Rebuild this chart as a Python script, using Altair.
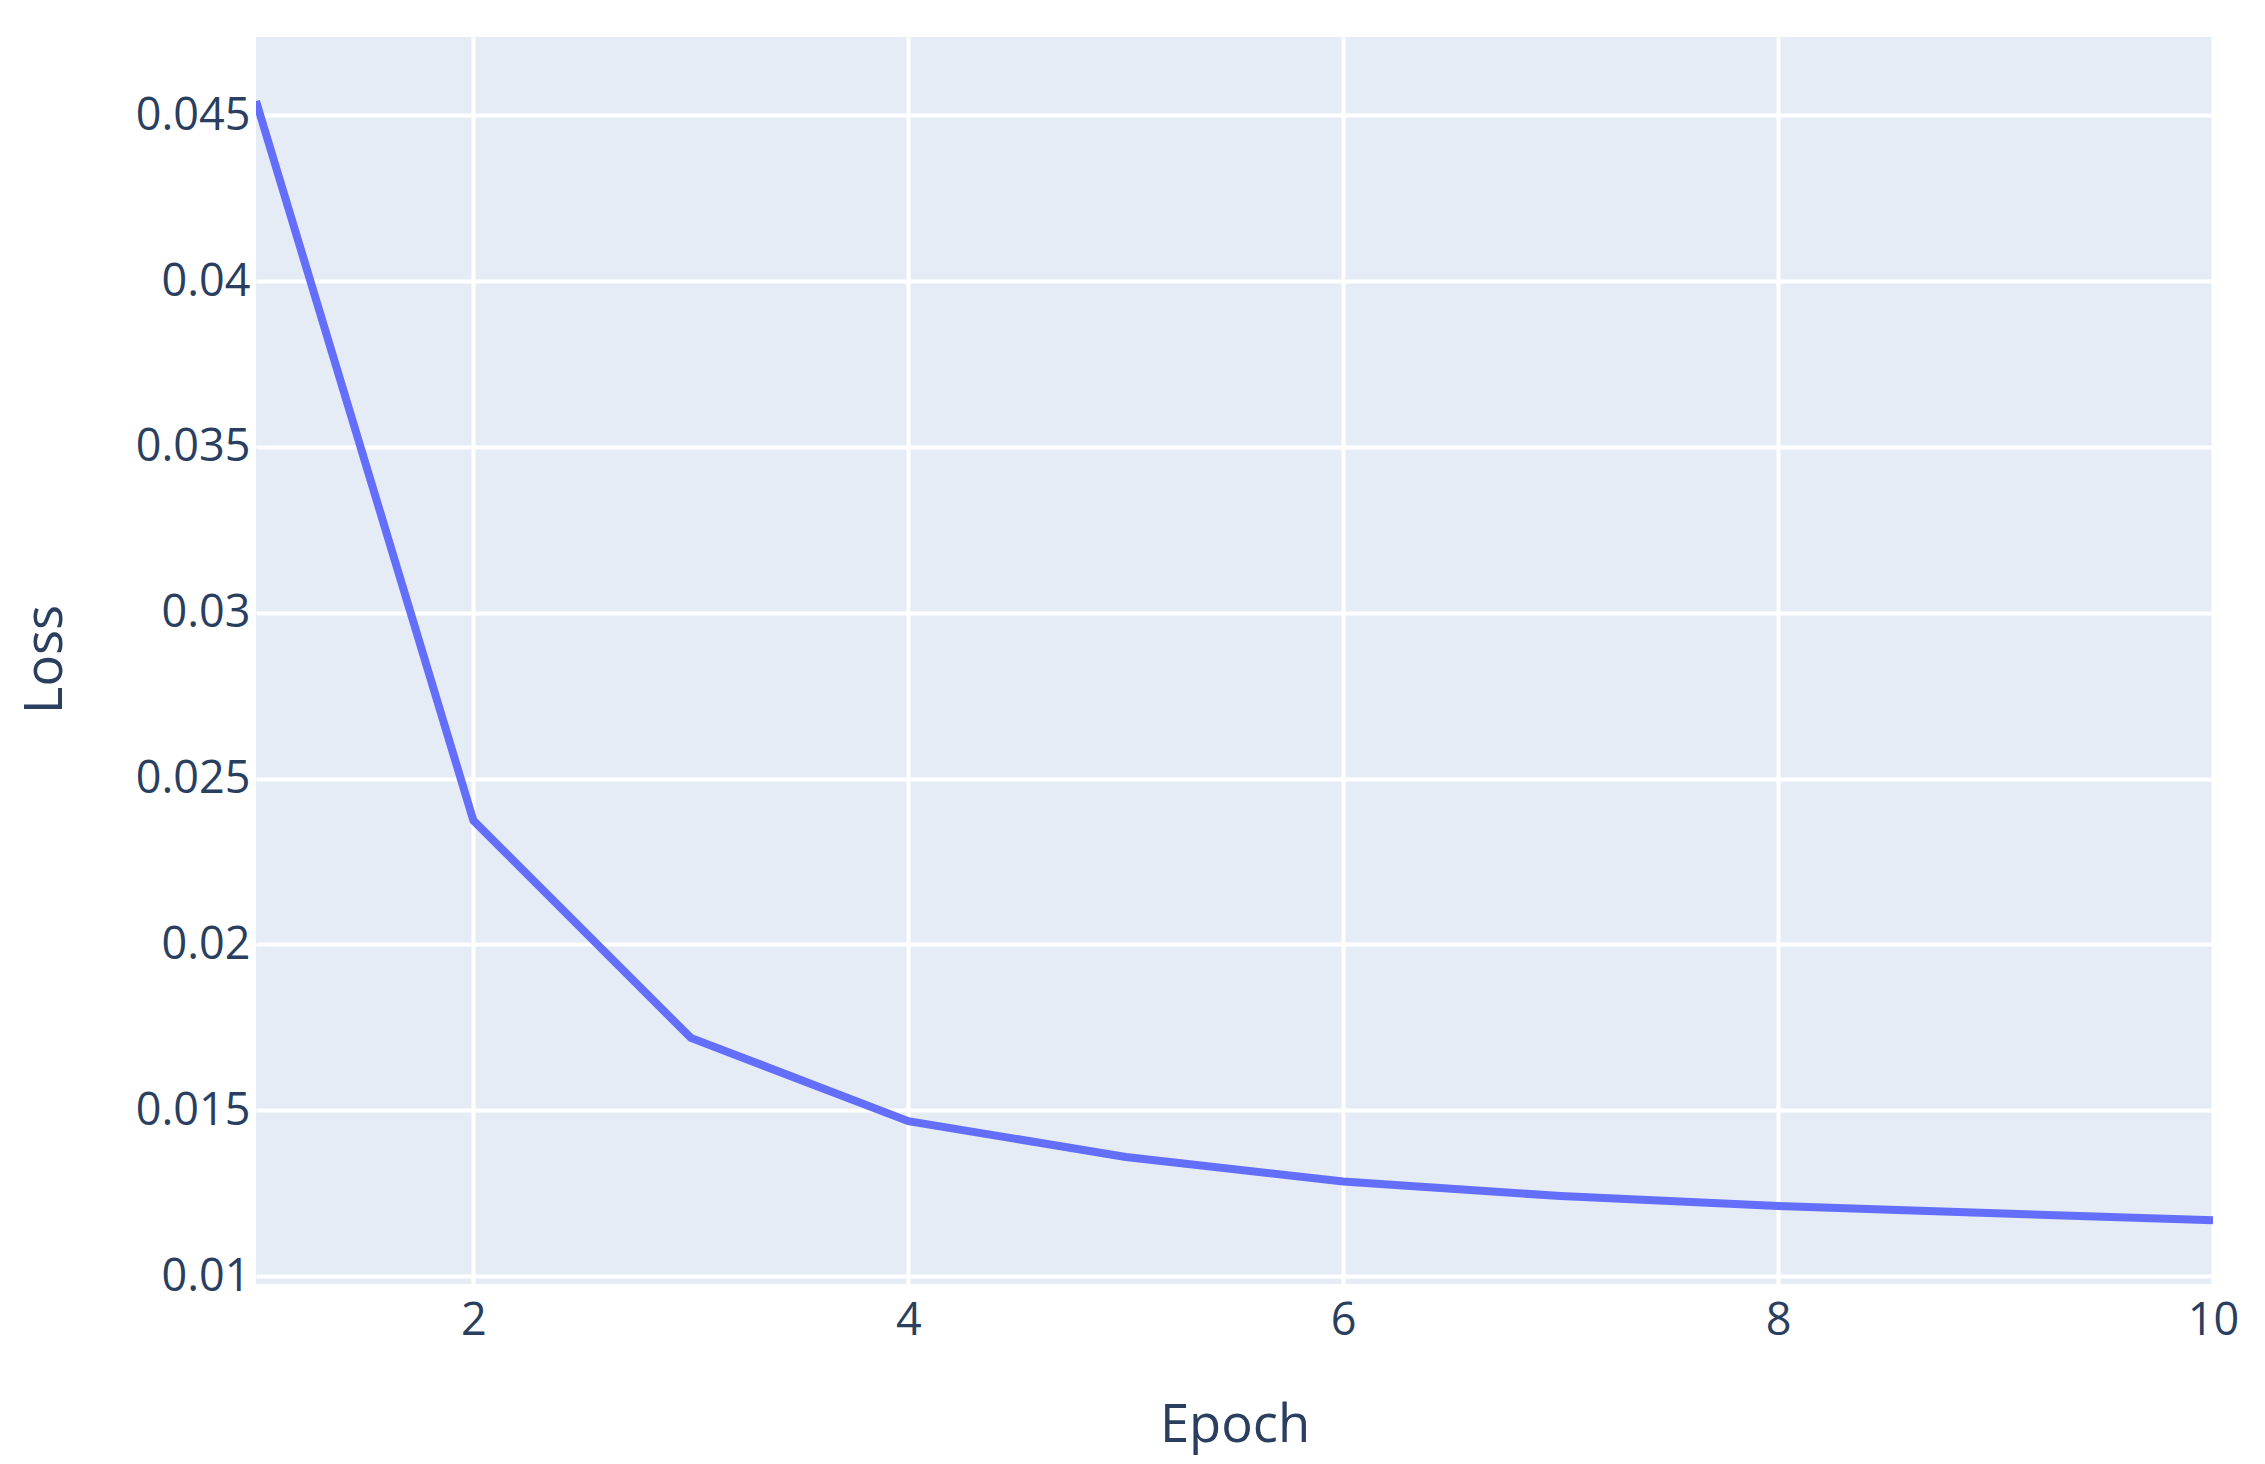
import altair as alt
import pandas as pd

epochs = [1, 2, 3, 4, 5, 6, 7, 8, 9, 10]
loss = [0.04543, 0.02373, 0.01718, 0.01467, 0.01359, 0.01285, 0.01241, 0.01211, 0.01189, 0.01168]
y_ticks = [0.01, 0.015, 0.02, 0.025, 0.03, 0.035, 0.04, 0.045]
x_ticks = [2, 4, 6, 8, 10]

df = pd.DataFrame({"Epoch": epochs, "Loss": loss})

FONT = "Open Sans"
TXT = "#2a3f5f"

chart = alt.Chart(df).mark_line(
    color="#636efa", strokeWidth=8, clip=True
).encode(
    x=alt.X(
        "Epoch:Q",
        scale=alt.Scale(domain=[1, 10], nice=False, zero=False),
        axis=alt.Axis(
            values=x_ticks, format="d", title="Epoch",
            grid=True, gridColor="white", gridWidth=4,
            domain=False, ticks=False,
            labelFont=FONT, labelFontSize=45, labelColor=TXT, labelPadding=14,
            labelFlush=False,
            titleFont=FONT, titleFontSize=52.5, titleColor=TXT, titleFontWeight="normal",
            titleBaseline="alphabetic", titleAlign="center",
            titleX=978.5, titleY=157,
        ),
    ),
    y=alt.Y(
        "Loss:Q",
        scale=alt.Scale(domain=[0.009759, 0.047361], nice=False, zero=False),
        axis=alt.Axis(
            values=y_ticks, format=".3~f", title="Loss",
            grid=True, gridColor="white", gridWidth=4,
            domain=False, ticks=False,
            labelFont=FONT, labelFontSize=45, labelColor=TXT, labelPadding=6,
            labelFlush=False,
            titleFont=FONT, titleFontSize=52.5, titleColor=TXT, titleFontWeight="normal",
            titleBaseline="alphabetic", titleAlign="center", titleAngle=-90,
            titleX=-195, titleY=622,
        ),
    ),
).properties(
    width=1957,
    height=1247,
    autosize=alt.AutoSizeParams(type="none"),
    padding={"left": 248, "top": 29, "right": 40, "bottom": 172},
    background="white",
).configure_view(
    fill="#E5ECF6", stroke=None
)

chart.save("out.html", embed_options={"renderer": "svg", "actions": False})
